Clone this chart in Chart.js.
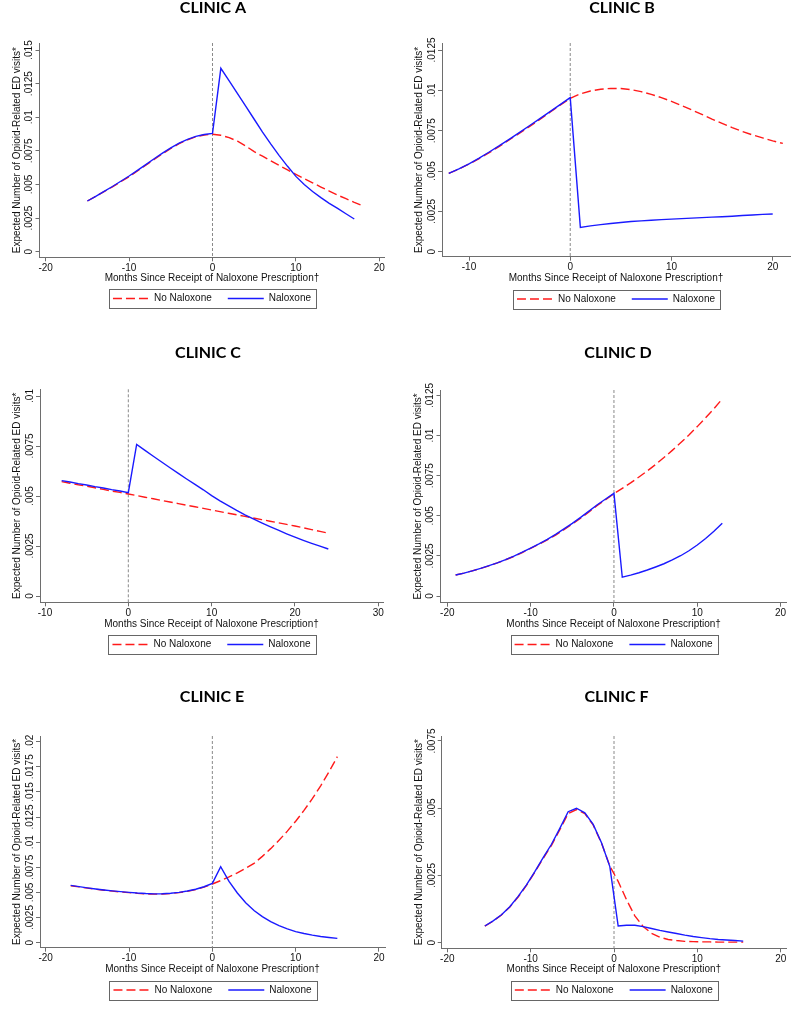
<!DOCTYPE html>
<html><head><meta charset="utf-8">
<script src="https://cdn.jsdelivr.net/npm/chart.js@4/dist/chart.umd.min.js"></script>
<style>
html,body{margin:0;padding:0;background:#fff;overflow:hidden;width:800px;height:1013px;position:relative}
canvas{position:absolute}
</style></head><body>
<script>
// ---------------- DATA ----------------
const seriesLabels = ['No Naloxone', 'Naloxone'];
const yAxisTitle = 'Expected Number of Opioid-Related ED visits*';
const xAxisTitle = 'Months Since Receipt of Naloxone Prescription\u2020';
const refLineX = 0;

// Clinic A
const monthsA = [-15,-14,-13,-12,-11,-10,-9,-8,-7,-6,-5,-4,-3,-2,-1,0,1,2,3,4,5,6,7,8,9,10,11,12,13,14,15,16,17,18];
const noNaloxoneA = [.00377,.00411,.00446,.00482,.00520,.00558,.00600,.00643,.00686,.00728,.00768,.00803,.00832,.00854,.00868,.00873,
  .00866,.00848,.00822,.00786,.00744,.00710,.00676,.00642,.00608,.00575,.00543,.00512,.00481,.00451,.00421,.00394,.00367,.00342];
const naloxoneA = [.00377,.00412,.00448,.00485,.00524,.00563,.00605,.00648,.00691,.00733,.00772,.00807,.00836,.00858,.00872,.00880,
  .01364,.01270,.01175,.01080,.00985,.00890,.00800,.00715,.00635,.00560,.00500,.00448,.00402,.00360,.00322,.00282,.00243,null];
const xTicksA = [-20,-10,0,10,20];
const yTicksA = [0,.0025,.005,.0075,.01,.0125,.015];

// Clinic B
const monthsB = [-12,-11,-10,-9,-8,-7,-6,-5,-4,-3,-2,-1,0,1,2,3,4,5,6,7,8,9,10,11,12,13,14,15,16,17,18,19,20,21];
const noNaloxoneB = [.00486,.00512,.00543,.00577,.00614,.00653,.00694,.00735,.00777,.00820,.00864,.00908,.00951,
  .00978,.00996,.01007,.01012,.01011,.01004,.00992,.00975,.00955,.00932,.00906,.00879,.00851,.00822,.00795,.00769,.00745,.00724,.00705,.00687,.00671];
const naloxoneB = [.00486,.00513,.00545,.00580,.00618,.00657,.00698,.00740,.00782,.00825,.00868,.00911,.00955,
  .00151,.00160,.00168,.00175,.00181,.00187,.00191,.00195,.00199,.00202,.00205,.00208,.00211,.00214,.00217,.00220,.00224,.00227,.00231,.00234,null];
const xTicksB = [-10,0,10,20];
const yTicksB = [0,.0025,.005,.0075,.01,.0125];

// Clinic C
const monthsC = [-8,-7,-6,-5,-4,-3,-2,-1,0,1,2,3,4,5,6,7,8,9,10,11,12,13,14,15,16,17,18,19,20,21,22,23,24];
const noNaloxoneC = [.00572,.00564,.00556,.00549,.00541,.00533,.00525,.00518,.00510,
  .00502,.00494,.00486,.00478,.00470,.00462,.00454,.00446,.00438,.00430,.00422,.00414,.00406,.00398,.00390,.00382,.00374,.00366,.00358,.00350,.00341,.00332,.00323,.00314];
const naloxoneC = [.00577,.00570,.00562,.00555,.00547,.00540,.00532,.00525,.00517,
  .00758,.00728,.00699,.00670,.00641,.00613,.00585,.00558,.00531,.00502,.00476,.00452,.00428,.00406,.00386,.00366,.00347,.00329,.00311,.00294,.00278,.00263,.00249,.00235];
const xTicksC = [-10,0,10,20,30];
const yTicksC = [0,.0025,.005,.0075,.01];

// Clinic D
const monthsD = [-19,-18,-17,-16,-15,-14,-13,-12,-11,-10,-9,-8,-7,-6,-5,-4,-3,-2,-1,0,1,2,3,4,5,6,7,8,9,10,11,12,13];
const noNaloxoneD = [.00131,.00143,.00157,.00172,.00188,.00206,.00226,.00247,.00271,.00297,.00322,.00350,.00380,.00413,.00448,.00485,.00524,.00565,.00600,.00638,
  .00671,.00705,.00742,.00780,.00820,.00863,.00908,.00955,.01004,.01056,.01111,.01168,.01229];
const naloxoneD = [.00131,.00143,.00157,.00172,.00189,.00207,.00227,.00249,.00273,.00299,.00325,.00353,.00384,.00418,.00453,.00490,.00529,.00569,.00605,.00640,
  .00117,.00130,.00145,.00162,.00181,.00201,.00225,.00251,.00282,.00318,.00358,.00403,.00454];
const xTicksD = [-20,-10,0,10,20];
const yTicksD = [0,.0025,.005,.0075,.01,.0125];

// Clinic E
const monthsE = [-17,-16,-15,-14,-13,-12,-11,-10,-9,-8,-7,-6,-5,-4,-3,-2,-1,0,1,2,3,4,5,6,7,8,9,10,11,12,13,14,15];
const noNaloxoneE = [.00567,.00555,.00543,.00532,.00522,.00513,.00505,.00498,.00491,.00486,.00483,.00484,.00489,.00498,.00511,.00528,.00553,.00584,
  .00618,.00654,.00695,.00740,.00789,.00859,.00936,.01019,.01110,.01209,.01316,.01433,.01561,.01700,.01851];
const naloxoneE = [.00570,.00558,.00546,.00535,.00525,.00516,.00508,.00501,.00494,.00489,.00486,.00487,.00492,.00501,.00514,.00532,.00557,.00590,
  .00756,.00610,.00495,.00398,.00320,.00259,.00210,.00170,.00137,.00110,.00091,.00075,.00062,.00052,.00043];
const xTicksE = [-20,-10,0,10,20];
const yTicksE = [0,.0025,.005,.0075,.01,.0125,.015,.0175,.02];

// Clinic F
const monthsF = [-15.5,-14.5,-13.5,-12.5,-11.5,-10.5,-9.5,-8.5,-7.5,-6.5,-5.5,-4.5,-3.5,-2.5,-1.5,-0.5,0.5,1.5,2.5,3.5,4.5,5.5,6.5,7.5,8.5,9.5,10.5,11.5,12.5,13.5,14.5,15.5];
const noNaloxoneF = [.00062,.00080,.00103,.00133,.00170,.00213,.00262,.00313,.00362,.00420,.00480,.00495,.00480,.00438,.00370,.00285,
  .00228,.00160,.00100,.00060,.00035,.00020,.00012,.00008,.00005,.00004,.00003,.00003,.00002,.00002,.00002,.00002];
const naloxoneF = [.00062,.00081,.00104,.00134,.00172,.00215,.00264,.00316,.00366,.00425,.00487,.00500,.00483,.00440,.00372,.00283,
  .00062,.00065,.00065,.00060,.00053,.00046,.00040,.00034,.00028,.00023,.00019,.00015,.00012,.00010,.00008,.00006];
const xTicksF = [-20,-10,0,10,20];
const yTicksF = [0,.0025,.005,.0075];

// ---------------- LAYOUT ----------------
const panels = [
  {title:'CLINIC A', months:monthsA, noNal:noNaloxoneA, nal:naloxoneA, xTicks:xTicksA, yTicks:yTicksA,
   box:{left:39.5,right:384.5,top:43,bottom:257.3,titleX:213,titleY:7.5,xTitleY:278.5,legendY:298.5}, xCal:[45.7,379.3], yCal:[251.7,50]},
  {title:'CLINIC B', months:monthsB, noNal:noNaloxoneB, nal:naloxoneB, xTicks:xTicksB, yTicks:yTicksB,
   box:{left:442,right:790,top:43,bottom:256.7,titleX:622,titleY:7.5,xTitleY:278.3,legendY:299}, xCal:[469,772.7], yCal:[251.7,50]},
  {title:'CLINIC C', months:monthsC, noNal:noNaloxoneC, nal:naloxoneC, xTicks:xTicksC, yTicks:yTicksC,
   box:{left:40,right:383,top:389.3,bottom:602.3,titleX:208,titleY:352.5,xTitleY:624,legendY:644.5}, xCal:[45,378.3], yCal:[596,396]},
  {title:'CLINIC D', months:monthsD, noNal:noNaloxoneD, nal:naloxoneD, xTicks:xTicksD, yTicks:yTicksD,
   box:{left:440.5,right:786.7,top:390,bottom:602.7,titleX:618.2,titleY:352.5,xTitleY:624,legendY:644.5}, xCal:[447.3,780.6], yCal:[596,395.5]},
  {title:'CLINIC E', months:monthsE, noNal:noNaloxoneE, nal:naloxoneE, xTicks:xTicksE, yTicks:yTicksE,
   box:{left:40,right:385,top:736,bottom:947.7,titleX:212,titleY:697,xTitleY:969.3,legendY:990}, xCal:[45.7,379], yCal:[942.7,741.7]},
  {title:'CLINIC F', months:monthsF, noNal:noNaloxoneF, nal:naloxoneF, xTicks:xTicksF, yTicks:yTicksF,
   box:{left:441.7,right:786,top:736,bottom:948.3,titleX:616.7,titleY:697,xTitleY:969.3,legendY:990}, xCal:[447.3,780.7], yCal:[942.7,741]}
];

const FAMILY = '"Liberation Sans", Arial, sans-serif';
const NARROW = '"Liberation Sans Narrow", "Arial Narrow", "Liberation Sans", Arial, sans-serif';
Chart.defaults.font.family = FAMILY;
Chart.defaults.color = '#111';
const AXIS = '#6e6e6e';
const Y_TICK_SIZE = 10;

const fmt = v => (v === 0 ? '0' : String(v).replace(/^0\./, '.').replace(/^-0\./, '-.'));

const measureCtx = document.createElement('canvas').getContext('2d');
function textW(str, size, fam) { measureCtx.font = `${size}px ${fam}`; return measureCtx.measureText(str).width; }

const zeroLine = {
  id: 'zeroLine',
  beforeDatasetsDraw(chart) {
    const {ctx, chartArea: a, scales: {x}} = chart;
    const px = x.getPixelForValue(refLineX);
    ctx.save();
    ctx.strokeStyle = '#8a8a8a'; ctx.lineWidth = 1; ctx.setLineDash([3, 2]);
    ctx.beginPath(); ctx.moveTo(px, a.top); ctx.lineTo(px, a.bottom); ctx.stroke();
    ctx.restore();
  }
};
const legendFrame = {
  id: 'legendFrame',
  afterDraw(chart) {
    const lg = chart.legend;
    if (!lg || !lg.legendHitBoxes || !lg.legendHitBoxes.length) return;
    const hb = lg.legendHitBoxes, first = hb[0], last = hb[hb.length - 1];
    const cy = first.top + first.height / 2;
    const x0 = Math.round(first.left - 4), x1 = Math.round(last.left + last.width + 5);
    const ctx = chart.ctx;
    ctx.save(); ctx.strokeStyle = '#666'; ctx.lineWidth = 1;
    ctx.strokeRect(x0 + 0.5, Math.round(cy - 9.5) + 0.5, x1 - x0, 19);
    ctx.restore();
  }
};

function legendLabels(chart) {
  const items = Chart.defaults.plugins.legend.labels.generateLabels(chart);
  items.forEach(it => {
    const ds = chart.data.datasets[it.datasetIndex];
    it.lineDash = ds.borderDash || [];
    it.lineWidth = ds.borderWidth;
    it.strokeStyle = ds.borderColor;
    it.pointStyle = 'line';
  });
  return items;
}

panels.forEach(p => {
  const b = p.box;
  const cl = Math.round(b.left - 40), wy = b.left - cl;
  const W = Math.round(2 * (b.titleX - cl)), wr = cl + W - b.right;
  const ct = Math.round(b.titleY - 8);
  const titlePadB = b.top - ct - 16;
  const LT = b.legendY - 21, hx = LT - b.bottom, xtPadB = LT - 6 - b.xTitleY;
  const H = Math.ceil(LT + 38 - ct), padB = ct + H - (LT + 36);

  const xt = p.xTicks, yt = p.yTicks;
  const xpu = (p.xCal[1] - p.xCal[0]) / (xt[xt.length - 1] - xt[0]);
  const xmin = xt[0] - (p.xCal[0] - b.left) / xpu, xmax = xt[xt.length - 1] + (b.right - p.xCal[1]) / xpu;
  const ypu = (p.yCal[0] - p.yCal[1]) / (yt[yt.length - 1] - yt[0]);
  const ymin = yt[0] - (b.bottom - p.yCal[0]) / ypu, ymax = yt[yt.length - 1] + (p.yCal[1] - b.top) / ypu;

  const widest = Math.max(...yt.map(v => textW(fmt(v), Y_TICK_SIZE, NARROW)));
  const yTickPad = 5.8 - widest / 2;
  const yTitlePad = (b.left - 22.5) - cl - 6;

  const cv = document.createElement('canvas');
  cv.width = W; cv.height = H;
  cv.style.left = cl + 'px'; cv.style.top = ct + 'px';
  cv.style.width = W + 'px'; cv.style.height = H + 'px';
  document.body.appendChild(cv);

  new Chart(cv, {
    type: 'line',
    data: {
      datasets: [
        {label: seriesLabels[0], data: p.months.map((m, i) => ({x: m, y: p.noNal[i]})),
         borderColor: '#ff1a1a', borderWidth: 1.4, borderDash: [9, 4], pointRadius: 0, tension: 0, fill: false, order: 1},
        {label: seriesLabels[1], data: p.months.map((m, i) => ({x: m, y: p.nal[i]})),
         borderColor: '#1a1aff', borderWidth: 1.4, pointRadius: 0, tension: 0, fill: false, order: 0}
      ]
    },
    options: {
      responsive: false, animation: false, devicePixelRatio: 1, events: [],
      layout: {padding: {top: 0, left: 0, right: 0, bottom: padB}},
      scales: {
        x: {type: 'linear', position: 'bottom', min: xmin, max: xmax,
            afterBuildTicks: s => { s.ticks = xt.map(v => ({value: v})); },
            afterFit: s => { s.height = hx; },
            grid: {display: true, drawOnChartArea: false, drawTicks: true, tickLength: 4, color: AXIS},
            border: {display: true, color: AXIS, width: 1},
            ticks: {autoSkip: false, maxRotation: 0, minRotation: 0, padding: 1, font: {size: 10}, color: '#111', callback: v => fmt(v)},
            title: {display: true, text: xAxisTitle, font: {size: 10}, color: '#111', padding: {top: 0, bottom: xtPadB}}},
        y: {type: 'linear', position: 'left', min: ymin, max: ymax,
            afterBuildTicks: s => { s.ticks = yt.map(v => ({value: v})); },
            afterFit: s => { s.width = wy; },
            grid: {display: true, drawOnChartArea: false, drawTicks: true, tickLength: 4, color: AXIS},
            border: {display: true, color: AXIS, width: 1},
            ticks: {autoSkip: false, minRotation: 90, maxRotation: 90, crossAlign: 'center', padding: yTickPad,
                    font: {size: Y_TICK_SIZE, family: NARROW}, color: '#111', callback: v => fmt(v)},
            title: {display: true, text: yAxisTitle, font: {size: 10}, color: '#111', padding: {top: yTitlePad, bottom: 0}}},
        yr: {type: 'linear', position: 'right', display: true, min: 0, max: 1,
            afterFit: s => { s.width = wr; },
            grid: {display: false, drawTicks: false}, border: {display: false}, ticks: {display: false}, title: {display: false}}
      },
      plugins: {
        title: {display: true, text: p.title, color: '#000', fullSize: true,
                font: {family: 'Lato, "Open Sans", sans-serif', size: 16, weight: 'bold', lineHeight: 1},
                padding: {top: 0, bottom: titlePadB}},
        legend: {display: true, position: 'bottom', fullSize: false,
                 labels: {usePointStyle: true, pointStyle: 'line', pointStyleWidth: 36, padding: 16,
                          font: {size: 10}, color: '#111', generateLabels: legendLabels,
                          sort: (a, c) => a.datasetIndex - c.datasetIndex}},
        tooltip: {enabled: false}
      }
    },
    plugins: [zeroLine, legendFrame]
  });
});
</script>
</body></html>
